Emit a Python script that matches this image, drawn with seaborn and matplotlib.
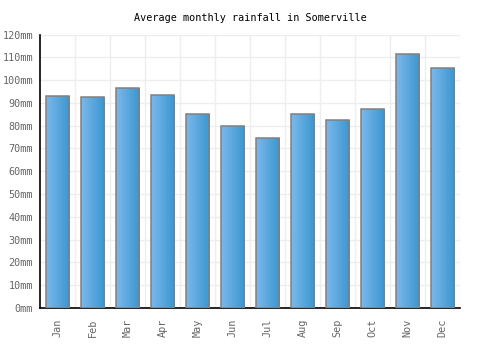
import numpy as np
import pandas as pd
import matplotlib
matplotlib.use("Agg")
import matplotlib.pyplot as plt
import seaborn as sns
from matplotlib.colors import LinearSegmentedColormap

months = ["Jan", "Feb", "Mar", "Apr", "May", "Jun", "Jul", "Aug", "Sep", "Oct", "Nov", "Dec"]
rainfall = [93.2, 92.5, 96.5, 93.4, 85.1, 79.8, 74.6, 85.1, 82.5, 87.3, 111.4, 105.3]
yticks = list(range(0, 121, 10))
ytick_labels = [f"{v}mm" for v in yticks]

df = pd.DataFrame({"month": months, "rain": rainfall})

sns.set_style("white")
plt.rcParams["font.family"] = ["DejaVu Sans Mono"]

fig = plt.figure(figsize=(5, 3.5), dpi=100)
ax = fig.add_axes([0.08, 0.12, 0.84, 0.7814])

sns.barplot(data=df, x="month", y="rain", ax=ax, width=0.66,
            color="#5aa8de", edgecolor="#808080", linewidth=1.1, zorder=3)

# gradient fill clipped to each bar
cmap = LinearSegmentedColormap.from_list("bar", ["#7bb8ec", "#3a97cf"])
grad = np.linspace(0, 1, 64).reshape(1, -1)
for p in ax.patches:
    x0, y0 = p.get_x(), p.get_y()
    w, h = p.get_width(), p.get_height()
    im = ax.imshow(grad, cmap=cmap, aspect="auto", extent=[x0, x0 + w, y0, y0 + h],
                   zorder=3.5, interpolation="bicubic")
    im.set_clip_path(p)
    p.set_facecolor("none")
    p.set_zorder(4)

ax.set_xlim(-0.5, 11.5)
ax.set_ylim(0, 120)
ax.set_yticks(yticks)
ax.set_yticklabels(ytick_labels)
ax.set_xticks(range(12))
ax.set_xticklabels(months, rotation=90)
ax.set_xticks(np.arange(0.5, 12, 1), minor=True)

ax.grid(True, axis="y", color="#eeeeee", linewidth=1, zorder=0)
ax.grid(True, axis="x", which="minor", color="#eeeeee", linewidth=1, zorder=0)
ax.grid(False, axis="x", which="major")
ax.set_axisbelow(True)

ax.tick_params(axis="both", labelsize=7.3, colors="#666666", length=0, pad=5)
ax.tick_params(axis="x", pad=8)
ax.set_xlabel("")
ax.set_ylabel("")

for s in ["top", "right"]:
    ax.spines[s].set_visible(False)
for s in ["left", "bottom"]:
    ax.spines[s].set_color("black")
    ax.spines[s].set_linewidth(1.2)

ax.set_title("Average monthly rainfall in Somerville", fontsize=7.3, color="black", pad=10)

fig.savefig("out.png", dpi=100)
